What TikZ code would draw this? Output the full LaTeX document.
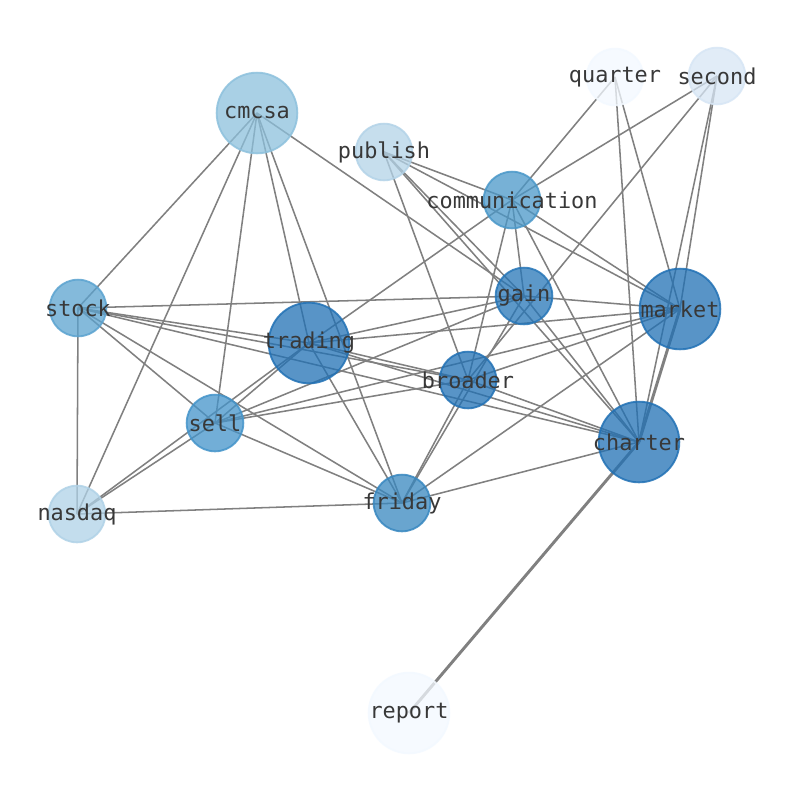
\documentclass[tikz,border=0pt]{standalone}
\usepackage{fontspec}
\setmonofont{DejaVu Sans Mono}
\usetikzlibrary{backgrounds}
\definecolor{cQuarter}{HTML}{F3F9FF}
\definecolor{cReport}{HTML}{F3F9FF}
\definecolor{cSecond}{HTML}{D7E6F5}
\definecolor{cPublish}{HTML}{B3D3E8}
\definecolor{cNasdaq}{HTML}{B0D2E7}
\definecolor{cCmcsa}{HTML}{8DC1DD}
\definecolor{cStock}{HTML}{5BA3D0}
\definecolor{cComm}{HTML}{4A98C9}
\definecolor{cSell}{HTML}{4494CA}
\definecolor{cFriday}{HTML}{3787C0}
\definecolor{cGain}{HTML}{2676B8}
\definecolor{cDark}{HTML}{2171B5}
\tikzset{
  vtx/.style={circle, inner sep=0pt, fill=#1, draw=#1, fill opacity=0.75, draw opacity=0.85, text opacity=1, line width=1.4pt},
  smallv/.style={minimum size=42.5pt},
  bigv/.style={minimum size=60.5pt},
  every label/.style={font=\ttfamily\fontsize{16.4}{18}\selectfont, text=black!78, text opacity=1, fill opacity=1, inner sep=0pt},
  lnk/.style={draw=gray, line width=1.15pt},
  heavy/.style={draw=gray, line width=2.2pt}
}
\begin{document}
\begin{tikzpicture}[x=0.75pt, y=-0.75pt]
\useasboundingbox (0,0) rectangle (794,790);
\node[vtx=cCmcsa, bigv, label={center:cmcsa}] (cmcsa) at (257,113) {};
\node[vtx=cPublish, smallv, label={center:publish}] (publish) at (384,152) {};
\node[vtx=cQuarter, smallv, label={center:quarter}] (quarter) at (615,77) {};
\node[vtx=cSecond, smallv, label={center:second}] (second) at (717,76) {};
\node[vtx=cComm, smallv, label={center:communication}] (comm) at (512,200) {};
\node[vtx=cStock, smallv, label={center:stock}] (stock) at (78,308) {};
\node[vtx=cGain, smallv, label={center:gain}] (gain) at (524,296) {};
\node[vtx=cDark, bigv, label={center:market}] (market) at (680,309) {};
\node[vtx=cDark, bigv, label={center:trading}] (trading) at (309,343) {};
\node[vtx=cDark, smallv, label={center:broader}] (broader) at (468,380) {};
\node[vtx=cSell, smallv, label={center:sell}] (sell) at (215,423) {};
\node[vtx=cDark, bigv, label={center:charter}] (charter) at (639,442) {};
\node[vtx=cNasdaq, smallv, label={center:nasdaq}] (nasdaq) at (77,514) {};
\node[vtx=cFriday, smallv, label={center:friday}] (friday) at (402,503) {};
\node[vtx=cReport, bigv, label={center:report}] (report) at (409,713) {};
\begin{scope}[on background layer]
\fill[white] (0,0) rectangle (794,790);
\foreach \a/\b in {cmcsa/stock, cmcsa/nasdaq, cmcsa/sell, cmcsa/trading, cmcsa/friday, cmcsa/gain,
  stock/nasdaq, stock/gain, stock/trading, stock/broader, stock/charter, stock/sell, stock/friday,
  nasdaq/sell, nasdaq/trading, nasdaq/friday,
  sell/trading, sell/friday, sell/gain, sell/market, sell/broader,
  trading/comm, trading/gain, trading/market, trading/broader, trading/charter, trading/friday,
  publish/comm, publish/gain, publish/charter, publish/broader, publish/market,
  comm/quarter, comm/second, comm/gain, comm/broader, comm/market, comm/charter,
  quarter/market, quarter/charter, second/market, second/charter, second/broader,
  gain/market, gain/charter, gain/friday,
  broader/market, broader/charter, broader/friday,
  market/friday, charter/friday}
  \draw[lnk] (\a.center) -- (\b.center);
\draw[heavy] (market.center) -- (charter.center);
\draw[heavy] (charter.center) -- (report.center);
\end{scope}
\end{tikzpicture}
\end{document}
